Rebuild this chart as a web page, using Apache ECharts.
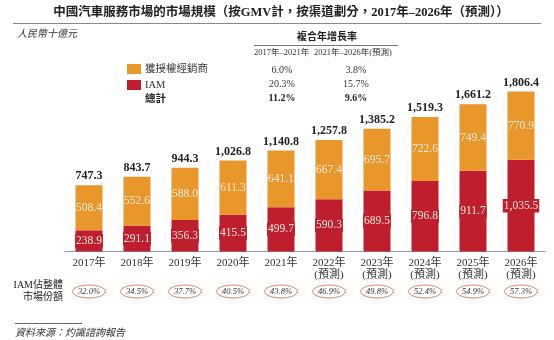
<!DOCTYPE html>
<html>
<head>
<meta charset="utf-8">
<script src="https://cdn.jsdelivr.net/npm/echarts@6/dist/echarts.min.js"></script>
<style>
  html, body { margin: 0; padding: 0; background: #fff; }
  #main { width: 554px; height: 340px; }
</style>
</head>
<body>
<div id="main"></div>
<script>
// Market size of China's auto service market by channel, RMB billion
const years = ['2017年', '2018年', '2019年', '2020年', '2021年',
  '2022年\n(預測)', '2023年\n(預測)', '2024年\n(預測)', '2025年\n(預測)', '2026年\n(預測)'];
const iam = [238.9, 291.1, 356.3, 415.5, 499.7, 590.3, 689.5, 796.8, 911.7, 1035.5];
const dealers = [508.4, 552.6, 588.0, 611.3, 641.1, 667.4, 695.7, 722.6, 749.4, 770.9];
const totals = [747.3, 843.7, 944.3, 1026.8, 1140.8, 1257.8, 1385.2, 1519.3, 1661.2, 1806.4];
const iamShare = ['32.0%', '34.5%', '37.7%', '40.5%', '43.8%', '46.9%', '49.8%', '52.4%', '54.9%', '57.3%'];
const cagrPeriods = ['2017年–2021年', '2021年–2026年(預測)'];
const cagrDealers = ['6.0%', '3.8%'];
const cagrIam = ['20.3%', '15.7%'];
const cagrTotal = ['11.2%', '9.6%'];

const SERIF = "'Liberation Serif', 'Noto Sans CJK TC', serif";
const ORANGE = '#E9962A';
const RED = '#BE1E2D';

const fmt = v => v.toLocaleString('en-US', { minimumFractionDigits: 1, maximumFractionDigits: 1 });

const chart = echarts.init(document.getElementById('main'));

chart.setOption({
  animation: false,
  textStyle: { fontFamily: SERIF },
  grid: { left: 65, right: 9, top: 74.3, bottom: 88.5, containLabel: false },
  xAxis: {
    type: 'category',
    data: years,
    axisLine: { lineStyle: { color: '#999', width: 1 } },
    axisTick: { show: false },
    axisLabel: { fontFamily: SERIF, fontSize: 11, color: '#333', lineHeight: 12, margin: 6, interval: 0 }
  },
  yAxis: { type: 'value', min: 0, max: 2000, show: false, splitLine: { show: false } },
  series: [
    {
      name: 'IAM', type: 'bar', stack: 'gmv', data: iam, barWidth: 27,
      itemStyle: { color: RED },
      label: {
        show: true, position: 'inside', formatter: p => fmt(p.value),
        fontFamily: SERIF, fontSize: 11.5, color: '#F8E8DC',
        backgroundColor: RED, padding: [1, 1]
      }
    },
    {
      name: '獲授權經銷商', type: 'bar', stack: 'gmv', data: dealers, barWidth: 27,
      itemStyle: { color: ORANGE },
      label: {
        show: true, position: 'inside', formatter: p => fmt(p.value),
        fontFamily: SERIF, fontSize: 11.5, color: '#FBEBD8'
      }
    },
    {
      name: '總計', type: 'bar', data: totals, barWidth: 27, barGap: '-100%', z: 1,
      itemStyle: { color: 'rgba(0,0,0,0)' },
      label: {
        show: true, position: 'top', distance: 3, formatter: p => fmt(p.value),
        fontFamily: SERIF, fontSize: 12, fontWeight: 'bold', color: '#222'
      }
    }
  ]
});

// Headings, legend, CAGR table, share ellipses and footnote
const g = [];
const txt = (x, y, text, opts) => g.push({
  type: 'text', x, y, silent: true,
  style: Object.assign({ text, fontFamily: SERIF, fontSize: 10, fill: '#333', textAlign: 'left', textVerticalAlign: 'middle' }, opts || {})
});
const line = (x1, y1, x2, y2, color) => g.push({
  type: 'line', silent: true, shape: { x1, y1, x2, y2 }, style: { stroke: color || '#888', lineWidth: 1 }
});
const swatch = (y, color) => g.push({
  type: 'rect', silent: true, shape: { x: 127, y: y - 5, width: 14, height: 10 }, style: { fill: color }
});

txt(281, 13, '中國汽車服務市場的市場規模（按GMV計，按渠道劃分，2017年–2026年（預測））',
  { fontSize: 12.5, fontWeight: 'bold', fill: '#222', textAlign: 'center' });
line(13, 23.5, 541, 23.5, '#888');
txt(17, 34, '人民幣十億元', { fontStyle: 'italic', fontSize: 10 });

// Legend
swatch(69, ORANGE);
txt(145, 69, '獲授權經銷商', { fontSize: 10.5 });
swatch(85, RED);
txt(145, 85, 'IAM', { fontSize: 10.5 });
txt(145, 99, '總計', { fontSize: 10.5, fontWeight: 'bold', fill: '#222' });

// Compound annual growth rate table
txt(327, 37, '複合年增長率', { fontWeight: 'bold', fontSize: 10, textAlign: 'center', fill: '#222' });
line(254, 45.5, 398, 45.5, '#777');
txt(254, 53, cagrPeriods[0], { fontSize: 8.5 });
txt(314, 53, cagrPeriods[1], { fontSize: 8.5 });
const colX = [282, 356];
cagrDealers.forEach((t, i) => txt(colX[i], 70, t, { fontSize: 10, textAlign: 'center' }));
cagrIam.forEach((t, i) => txt(colX[i], 84, t, { fontSize: 10, textAlign: 'center' }));
cagrTotal.forEach((t, i) => txt(colX[i], 98, t, { fontSize: 10, fontWeight: 'bold', textAlign: 'center', fill: '#222' }));

// IAM share of total market
txt(63, 285, 'IAM佔整體', { fontSize: 10, textAlign: 'right', fill: '#222' });
txt(63, 297, '市場份額', { fontSize: 10, textAlign: 'right', fill: '#222' });
iamShare.forEach((s, i) => {
  const cx = chart.convertToPixel({ xAxisIndex: 0 }, i);
  g.push({ type: 'ellipse', silent: true, shape: { cx, cy: 291.5, rx: 16.5, ry: 6.5 },
    style: { fill: 'none', stroke: '#E2805F', lineWidth: 1 } });
  txt(cx, 291.5, s, { fontSize: 8.5, fontStyle: 'italic', textAlign: 'center' });
});

// Source note
line(15, 323.5, 82, 323.5, '#666');
txt(15, 333, '資料來源：灼識諮詢報告', { fontStyle: 'italic', fontSize: 10 });

chart.setOption({ graphic: { elements: g } });
</script>
</body>
</html>
